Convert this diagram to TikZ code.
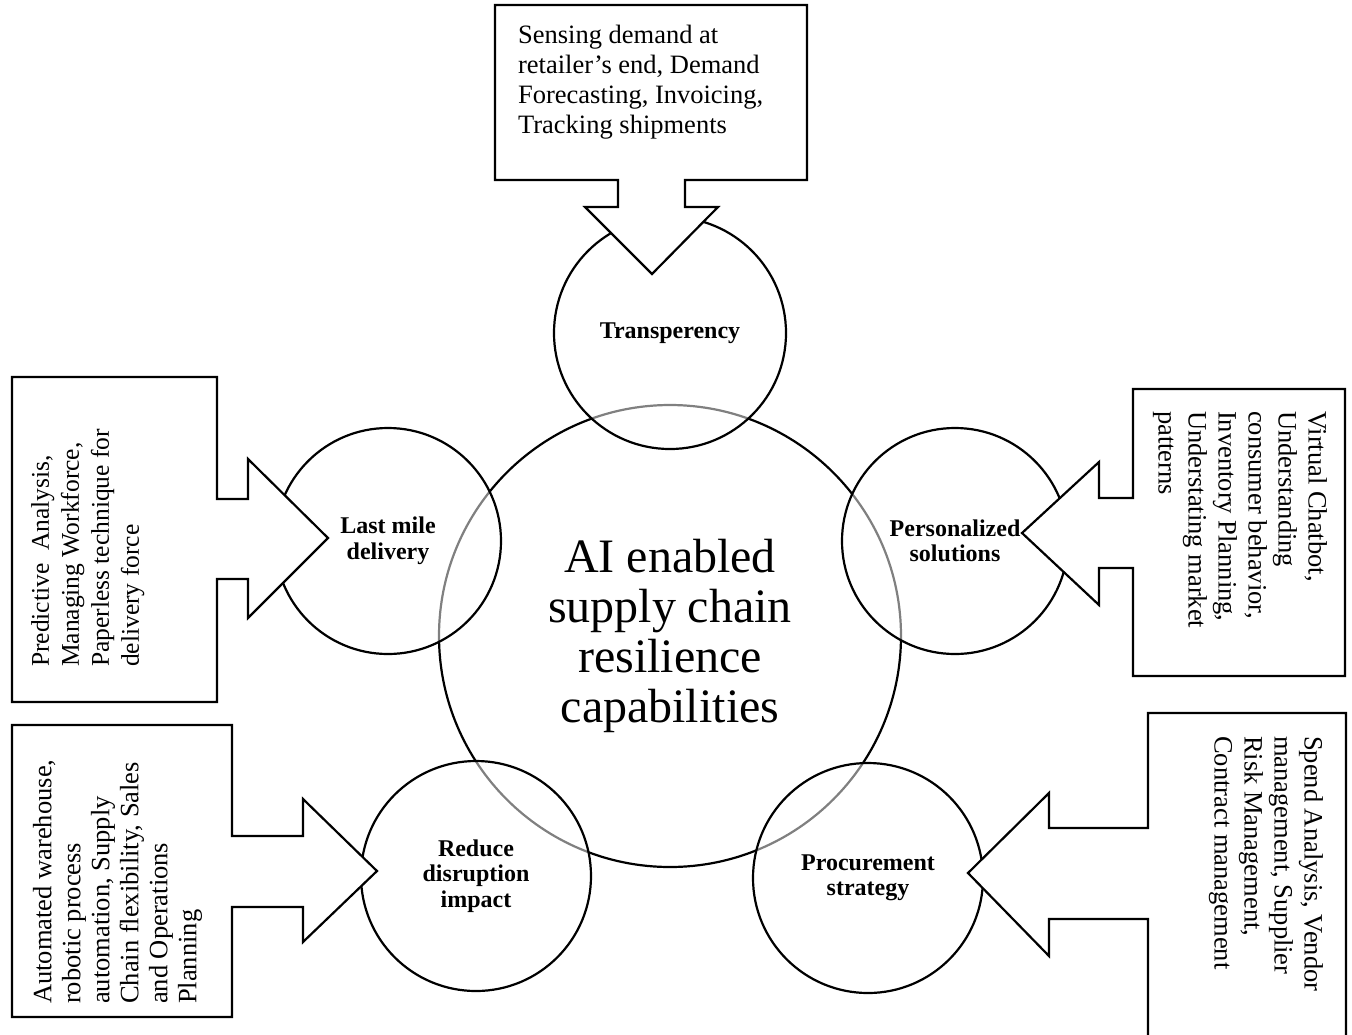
\documentclass[tikz,border=0pt]{standalone}
\usepackage{fontspec}
\setmainfont{Liberation Serif}
\usepackage{tikz}

\begin{document}
\begin{tikzpicture}[x=1pt,y=-1pt,line width=2.2pt,
  petal/.style={circle,draw,fill=white,fill opacity=0.5,text opacity=1,
    align=center,inner sep=0pt,font=\fontsize{24}{25.5}\selectfont\bfseries},
  callout/.style={draw,fill=white,line join=miter},
  blurb/.style={inner sep=0pt,align=left,font=\fontsize{26.5}{30}\selectfont}]

\clip (0,0) rectangle (1352,1034);

\node[circle,draw,minimum size=462pt,inner sep=0pt,align=center,
  font=\fontsize{48}{50}\selectfont] (core) at (670,636)
  {AI enabled\\supply chain\\resilience\\capabilities};

\node[petal,minimum size=232pt] (transp) at (670,333) {Transperency};
\node[petal,minimum size=226pt] (lastmile) at (388,541) {Last mile\\delivery};
\node[petal,minimum size=226pt] (personal) at (955,541) {Personalized\\solutions};
\node[petal,minimum size=230pt] (reduce) at (476,876) {Reduce\\disruption\\impact};
\node[petal,minimum size=230pt] (procure) at (868,878) {Procurement\\strategy};

% callout boxes
\draw[callout] (495,5) -- (807,5) -- (807,180) -- (685,180) -- (685,207)
    -- (718,207) -- (652,274) -- (585,207) -- (618,207) -- (618,180)
    -- (495,180) -- cycle;
\draw[callout] (12,377) -- (217,377) -- (217,499) -- (248,499) -- (248,459)
    -- (328,538) -- (248,618) -- (248,579) -- (217,579) -- (217,702)
    -- (12,702) -- cycle;
\draw[callout] (1133,389) -- (1345,389) -- (1345,676) -- (1133,676)
    -- (1133,568) -- (1099,568) -- (1099,605) -- (1022,533) -- (1099,462)
    -- (1099,498) -- (1133,498) -- cycle;
\draw[callout] (1148,713) -- (1346,713) -- (1346,1060) -- (1148,1060)
    -- (1148,919) -- (1049,919) -- (1049,956) -- (968,873) -- (1049,793)
    -- (1049,828) -- (1148,828) -- cycle;
\draw[callout] (12,725) -- (232,725) -- (232,836) -- (303,836) -- (303,799)
    -- (377,871) -- (303,942) -- (303,907) -- (232,907) -- (232,1017)
    -- (12,1017) -- cycle;

\node[blurb,anchor=north west] (transptext) at (517,24)
  {Sensing demand at\\retailer’s end, Demand\\Forecasting, Invoicing,\\Tracking shipments};
\node[blurb,rotate=90,anchor=north west,font=\fontsize{25.5}{30}\selectfont] (lastmiletext) at (30,668)
  {Predictive\ \ Analysis,\\Managing Workforce,\\Paperless technique for\\delivery force};
\node[blurb,rotate=-90,anchor=north west] (personaltext) at (1328,410)
  {Virtual Chatbot,\\Understanding\\consumer behavior,\\Inventory Planning,\\Understating market\\patterns};
\node[blurb,rotate=-90,anchor=north west] (procuretext) at (1324,735)
  {Spend Analysis, Vendor\\management, Supplier\\Risk Management,\\Contract management};
\node[blurb,rotate=90,anchor=north west,font=\fontsize{26.5}{29}\selectfont] (reducetext) at (32,1005)
  {Automated warehouse,\\robotic process\\automation, Supply\\Chain flexibility, Sales\\and Operations\\Planning};
\end{tikzpicture}
\end{document}
